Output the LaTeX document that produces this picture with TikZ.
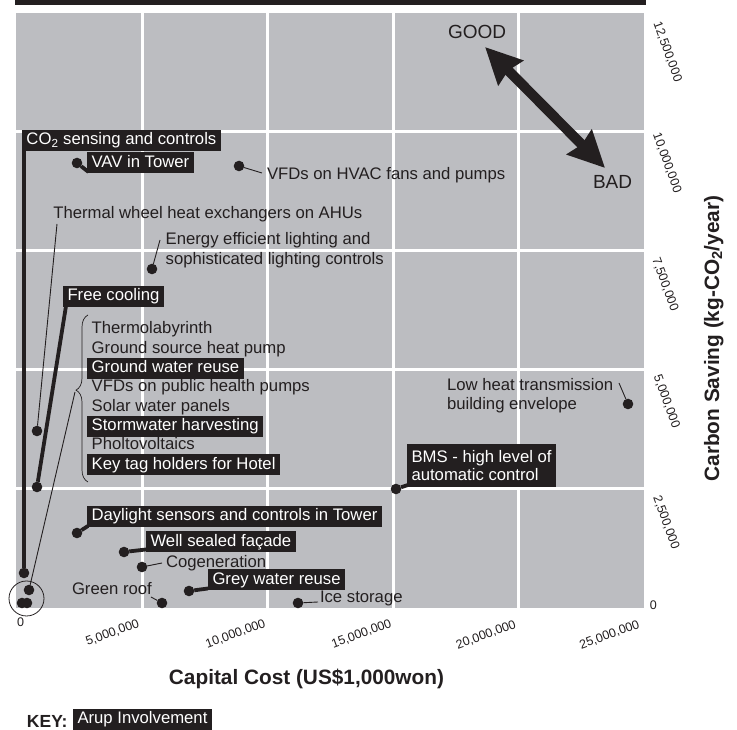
\documentclass[tikz,border=0pt]{standalone}
\usepackage{fontspec}
\setmainfont{Liberation Sans}
\usetikzlibrary{arrows.meta,decorations.pathreplacing,calc}
\definecolor{ink}{RGB}{35,31,32}
\definecolor{plotgray}{RGB}{188,189,193}

\begin{document}
\begin{tikzpicture}[x=1pt,y=1pt,
  every node/.style={outer sep=0pt},
  lbl/.style={anchor=base west, inner sep=0pt, text=ink, font=\fontsize{16.7}{18}\selectfont},
  arupbase/.style={fill=ink, text=white, inner xsep=4.5pt, font=\fontsize{16.7}{18}\selectfont},
  arup/.style={arupbase, anchor=west, inner ysep=2.5pt, text height=12.3pt, text depth=3.7pt},
  dot/.style={circle, fill=ink, inner sep=0pt, minimum size=10.6pt},
  thinline/.style={draw=ink, line width=0.9pt},
  thickline/.style={draw=ink, line width=3.8pt},
  tick/.style={text=ink, inner sep=0pt, font=\fontsize{12.5}{14}\selectfont},
  axislabel/.style={text=ink, inner sep=0pt, font=\bfseries\fontsize{20.8}{24}\selectfont},
  bigword/.style={anchor=base west, inner sep=0pt, text=ink, font=\fontsize{19}{20}\selectfont},
]
\useasboundingbox (0,0) rectangle (737,730);

% top rule and plot field with grid
\fill[ink] (15,725.3) rectangle (646,730);
\fill[plotgray] (15.7,122) rectangle (644,717.3);
\foreach \gx in {142,267.5,393,518} \draw[white, line width=3pt] (\gx,122) -- (\gx,717.3);
\foreach \gy in {598,479,360,241} \draw[white, line width=3pt] (15.7,\gy) -- (644,\gy);

% axis tick labels
\node[tick, rotate=-70] (ty125) at (667.5,678) {12,500,000};
\node[tick, rotate=-70] (ty100) at (667,567) {10,000,000};
\node[tick, rotate=-70] (ty75) at (665,445.5) {7,500,000};
\node[tick, rotate=-70] (ty50) at (666.5,328.5) {5,000,000};
\node[tick, rotate=-70] (ty25) at (666,207.5) {2,500,000};
\node[tick] (ty0) at (653.3,125) {0};
\node[tick] (tx0) at (20.5,107.5) {0};
\node[tick, rotate=20] (tx5) at (112.5,97) {5,000,000};
\node[tick, rotate=20] (tx10) at (235.5,96) {10,000,000};
\node[tick, rotate=20] (tx15) at (361.5,96) {15,000,000};
\node[tick, rotate=20] (tx20) at (486,95) {20,000,000};
\node[tick, rotate=20] (tx25) at (609.5,95) {25,000,000};

% axis titles
\node[axislabel, anchor=base] (xtitle) at (306.5,45) {Capital Cost (US\$1,000won)};
\node[axislabel, anchor=base, rotate=90] (ytitle) at (719,391.5) {Carbon Saving (kg-CO\textsubscript{2}/year)};

% key
\node[anchor=base west, inner sep=0pt, text=ink, font=\bfseries\fontsize{17.5}{18}\selectfont] (key) at (27,2.7) {KEY:};
\node[arup] (keybox) at (73,10.5) {Arup Involvement};

% good / bad direction
\node[bigword] (good) at (448,691) {GOOD};
\node[bigword] (bad) at (593,541) {BAD};
\coordinate (goodtip) at (485,683);
\coordinate (badtip) at (605,562);
\draw[ink, line width=10pt, {Stealth[length=36pt,width=34pt,inset=3pt]}-{Stealth[length=36pt,width=34pt,inset=3pt]}] (goodtip) -- (badtip);

% measure labels
\node[arup] (co2) at (22,589.5) {CO\textsubscript{2} sensing and controls};
\node[arup] (vav) at (87,567) {VAV in Tower};
\node[lbl] (vfds) at (267,550.5) {VFDs on HVAC fans and pumps};
\node[lbl] (thermal) at (53.3,511) {Thermal wheel heat exchangers on AHUs};
\node[lbl] (energy1) at (165.7,485) {Energy efficient lighting and};
\node[lbl] (energy2) at (165.7,465) {sophisticated lighting controls};
\node[arup] (free) at (63,433.5) {Free cooling};

\node[lbl] (thermo) at (91.7,396) {Thermolabyrinth};
\node[lbl] (gshp) at (91.7,376.7) {Ground source heat pump};
\node[arup, anchor=base west] (gwr) at (87.2,357.3) {Ground water reuse};
\node[lbl] (vfdph) at (91.7,338) {VFDs on public health pumps};
\node[lbl] (solar) at (91.7,318.7) {Solar water panels};
\node[arup, anchor=base west] (storm) at (87.2,299.3) {Stormwater harvesting};
\node[lbl] (pv) at (91.7,280) {Pholtovoltaics};
\node[arup, anchor=base west] (keytag) at (87.2,260.7) {Key tag holders for Hotel};

\node[lbl] (low1) at (447,339) {Low heat transmission};
\node[lbl] (low2) at (447,320.5) {building envelope};
\node[arupbase, anchor=west, align=left, inner ysep=6pt, font=\fontsize{16.7}{18.7}\selectfont] (bms) at (407,264.5) {BMS - high level of\\automatic control};

\node[arup] (day) at (87,213.5) {Daylight sensors and controls in Tower};
\node[arup] (well) at (146,188) {Well sealed façade};
\node[lbl] (cog) at (166,162.7) {Cogeneration};
\node[arup] (grey) at (208,150) {Grey water reuse};
\node[lbl] (green) at (72,135) {Green roof};
\node[lbl] (ice) at (320,127.3) {Ice storage};

% data points
\node[dot] (d-co2) at (24,157) {};
\node[dot] (d-vav) at (77,567) {};
\node[dot] (d-vfds) at (239,564) {};
\node[dot] (d-thermal) at (37,299) {};
\node[dot] (d-energy) at (152,461) {};
\node[dot] (d-free) at (37,243) {};
\node[dot] (d-low) at (628,326) {};
\node[dot] (d-bms) at (396,241) {};
\node[dot] (d-day) at (77,197) {};
\node[dot] (d-well) at (124,178) {};
\node[dot] (d-cog) at (142,163) {};
\node[dot] (d-grey) at (189,139) {};
\node[dot] (d-green) at (162,127) {};
\node[dot] (d-ice) at (298,127) {};
\node[dot] (d-r1) at (29,140) {};
\node[dot] (d-r2) at (22,127) {};
\node[dot] (d-r3) at (27,127) {};
\node[circle, draw=ink, line width=0.8pt, minimum size=35pt, inner sep=0pt] (ring) at (26.5,131.5) {};

% grouped measures
\draw[ink, line width=0.7pt, decorate, decoration={brace, amplitude=12pt, aspect=0.55}] (88,248) -- (88,415);
\coordinate (bracetip) at (75,338);
\coordinate (lowtick) at (619,347);
\coordinate (greentick) at (151,133);

% leaders
\draw[thickline] (d-co2) -- (d-co2 |- co2.south);
\draw[thickline] (d-vav) -- ([shift={(1.5,1.5)}]vav.south west);
\draw[thinline] (d-vfds) -- ($(vfds.base west)+(-5,6.5)$);
\draw[thinline] (d-thermal) -- ($(thermal.base west)+(3.7,-5)$);
\draw[thinline] (d-energy) -- ($(energy1.base west)+(-5.7,5)$);
\draw[thickline] (d-free) -- ([shift={(3,1)}]free.south west);
\draw[thinline] (bracetip) -- (d-r1);
\draw[thinline] (d-low) -- (lowtick);
\draw[thickline] (d-bms) -- ([shift={(1,2)}]bms.south west);
\draw[thickline] (d-day) -- ([shift={(1,1)}]day.south west);
\draw[thickline] (d-well) -- ([shift={(0,3)}]well.south west);
\draw[thinline] (d-cog) -- ($(cog.base west)+(-4,4.3)$);
\draw[thickline] (d-grey) -- ([shift={(0,2)}]grey.south west);
\draw[thinline] (greentick) -- (d-green);
\draw[thinline] (d-ice) -- ($(ice.base west)+(-2,0.7)$);
\end{tikzpicture}
\end{document}
